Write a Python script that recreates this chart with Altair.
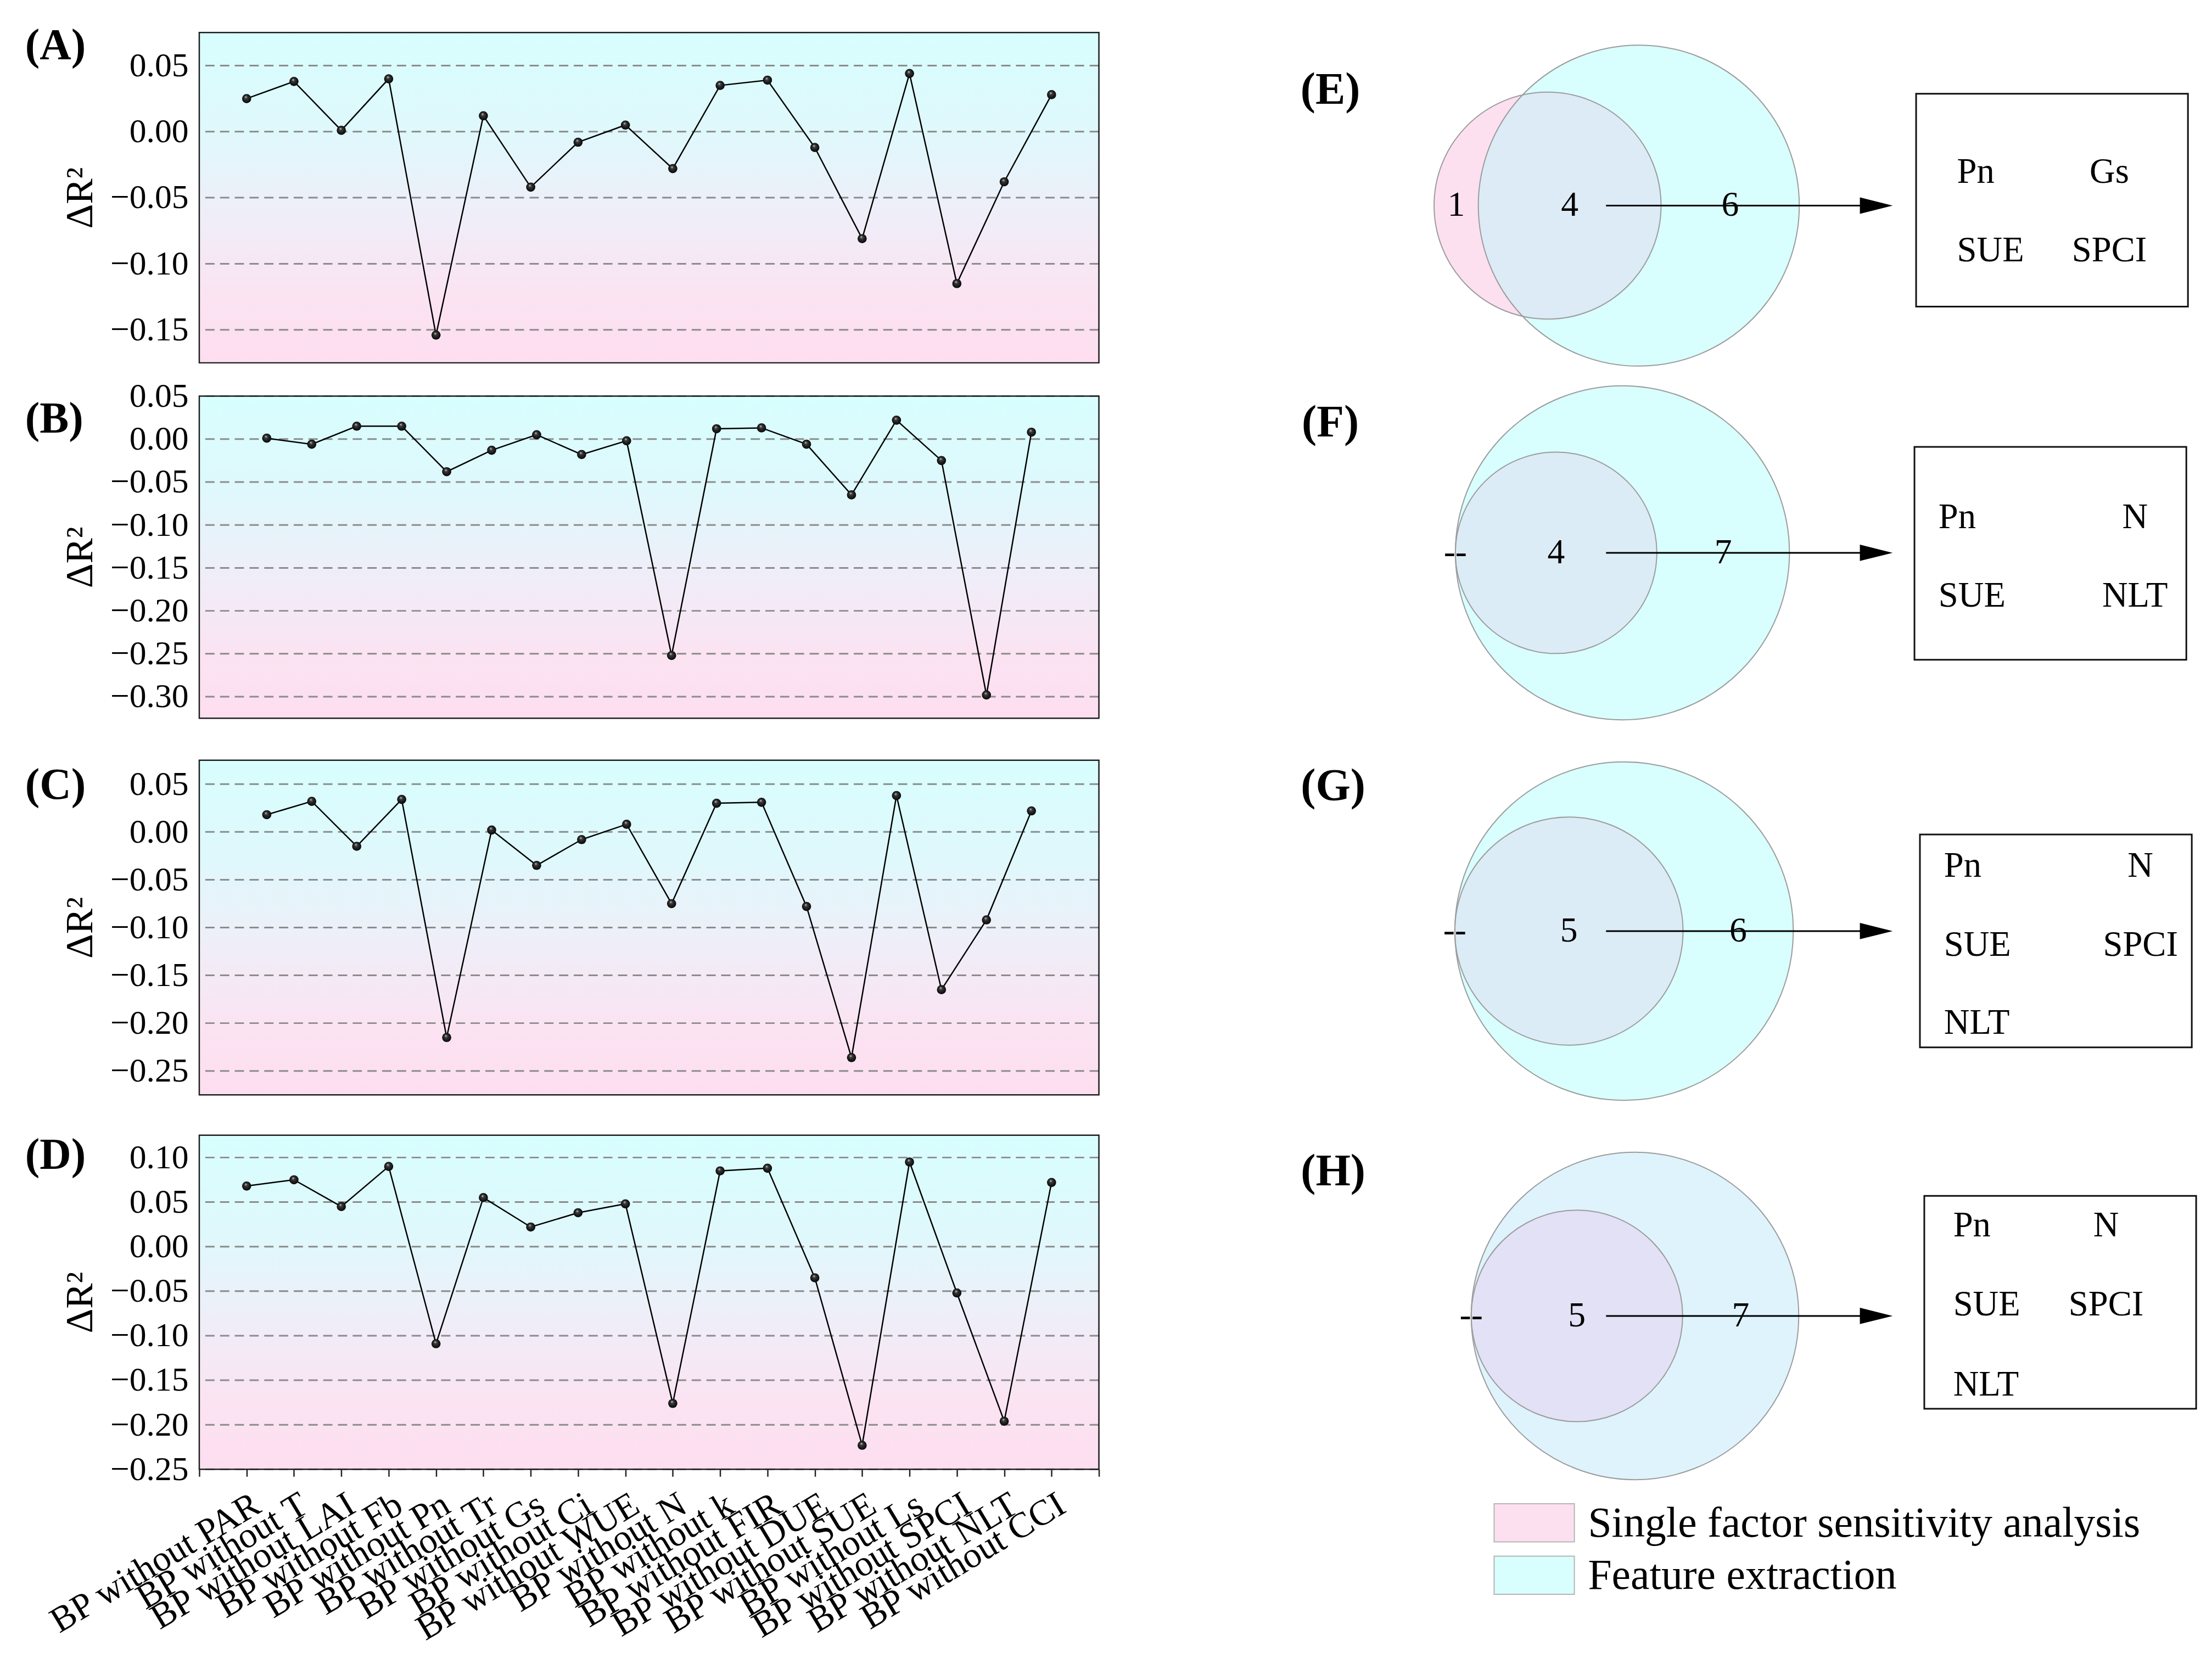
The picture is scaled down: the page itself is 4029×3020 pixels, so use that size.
import json
import math
import altair as alt
import pandas as pd

FONT = "Liberation Serif"

# ---------------- data ----------------
categories = ["PAR", "T", "LAI", "Fb", "Pn", "Tr", "Gs", "Ci", "WUE", "N",
              "k", "FIR", "DUE", "SUE", "Ls", "SPCI", "NLT", "CCI"]
x_labels = ["BP without " + c for c in categories]

dr2_A = [0.025, 0.038, 0.001, 0.040, -0.154, 0.012, -0.042, -0.008, 0.005, -0.028,
         0.035, 0.039, -0.012, -0.081, 0.044, -0.115, -0.038, 0.028]
dr2_B = [0.001, -0.006, 0.015, 0.015, -0.038, -0.013, 0.005, -0.018, -0.002, -0.252,
         0.012, 0.013, -0.006, -0.065, 0.022, -0.025, -0.298, 0.008]
dr2_C = [0.018, 0.032, -0.015, 0.034, -0.215, 0.002, -0.035, -0.008, 0.008, -0.075,
         0.030, 0.031, -0.078, -0.236, 0.038, -0.165, -0.092, 0.022]
dr2_D = [0.068, 0.075, 0.045, 0.090, -0.109, 0.055, 0.022, 0.038, 0.048, -0.176,
         0.085, 0.088, -0.035, -0.223, 0.095, -0.052, -0.196, 0.072]

ticks_A = [-0.15, -0.10, -0.05, 0.00, 0.05]
ticks_B = [-0.30, -0.25, -0.20, -0.15, -0.10, -0.05, 0.00, 0.05]
ticks_C = [-0.25, -0.20, -0.15, -0.10, -0.05, 0.00, 0.05]
ticks_D = [-0.25, -0.20, -0.15, -0.10, -0.05, 0.00, 0.05, 0.10]

venn_names = ["(E)", "(F)", "(G)", "(H)"]
only_single = [1, 0, 0, 0]
shared = [4, 4, 5, 5]
only_feature = [6, 7, 6, 7]
selected = [["Pn", "Gs", "SUE", "SPCI"],
            ["Pn", "N", "SUE", "NLT"],
            ["Pn", "N", "SUE", "SPCI", "NLT"],
            ["Pn", "N", "SUE", "SPCI", "NLT"]]
legend_labels = ["Single factor sensitivity analysis", "Feature extraction"]

# ---------------- styles ----------------
PANEL_W = 1648
BG_GRAD = {"gradient": "linear", "x1": 0, "y1": 0, "x2": 0, "y2": 1,
           "stops": [{"offset": 0, "color": "#d8fefe"},
                     {"offset": 0.3, "color": "#dff8fc"},
                     {"offset": 0.55, "color": "#efeef8"},
                     {"offset": 0.8, "color": "#fbe3f2"},
                     {"offset": 1, "color": "#fddef0"}]}
BALL = {"gradient": "radial", "x1": 0.4, "y1": 0.3, "r1": 0,
        "x2": 0.5, "y2": 0.5, "r2": 0.55,
        "stops": [{"offset": 0, "color": "#d8d8d8"},
                  {"offset": 0.28, "color": "#3a3a3a"},
                  {"offset": 1, "color": "#000000"}]}
label_expr = json.dumps([""] + x_labels + [""]) + "[datum.value]"


def line_panel(letter, values, ydom, yticks, xdom, height, letter_y, show_x):
    df = pd.DataFrame({"idx": list(range(1, 19)), "factor": x_labels, "dr2": values})
    xs = alt.Scale(domain=xdom, nice=False, zero=False)
    ys = alt.Scale(domain=ydom, nice=False, zero=False)
    yaxis = alt.Axis(values=yticks, format=".2f", labelFont=FONT, labelFontSize=62,
                     labelColor="#000", labelPadding=20, ticks=False, domain=False,
                     grid=False, titleFont=FONT, titleFontSize=70,
                     titleFontWeight="normal", titleColor="#000", titlePadding=18,
                     labelOverlap=False, labelFlush=False)
    if show_x:
        xaxis = alt.Axis(values=list(range(0, 20)), labelExpr=label_expr,
                         labelAngle=-31, labelAlign="right", labelBaseline="middle",
                         labelFont=FONT, labelFontSize=66, labelColor="#000",
                         labelPadding=46, labelOffset=19, labelLimit=2000,
                         tickSize=13, tickWidth=2.5,
                         tickColor="#222", domain=False, grid=False,
                         labelOverlap=False, labelFlush=False, labelBound=False)
    else:
        xaxis = None

    bg = alt.Chart(alt.Data(values=[{}])).mark_rect(fill=BG_GRAD).encode(
        x=alt.value(0), x2=alt.value(PANEL_W), y=alt.value(0), y2=alt.value(height))
    grid = alt.Chart(pd.DataFrame({"t": yticks})).mark_rule(
        color="#8c8c8c", strokeWidth=3, strokeDash=[17, 10]).encode(
        y=alt.Y("t:Q", scale=ys, axis=yaxis, title="ΔR²"))
    line = alt.Chart(df).mark_line(color="#000", strokeWidth=2.5).encode(
        x=alt.X("idx:Q", scale=xs, axis=xaxis, title=None),
        y=alt.Y("dr2:Q", scale=ys, axis=yaxis, title="ΔR²"))
    pts = alt.Chart(df).mark_circle(size=280, fill=BALL, opacity=1).encode(
        x=alt.X("idx:Q", scale=xs, axis=xaxis, title=None),
        y=alt.Y("dr2:Q", scale=ys, axis=yaxis, title="ΔR²"))
    border = alt.Chart(alt.Data(values=[{}])).mark_rect(
        fillOpacity=0, stroke="#1e1e1e", strokeWidth=2.5).encode(
        x=alt.value(0), x2=alt.value(PANEL_W), y=alt.value(0), y2=alt.value(height))
    lab = alt.Chart(alt.Data(values=[{}])).mark_text(
        text=letter, font=FONT, fontSize=80, fontWeight="bold", align="left",
        baseline="middle", color="#000").encode(
        x=alt.value(-319), y=alt.value(letter_y))
    return alt.layer(bg, grid, line, pts, border, lab).properties(
        width=PANEL_W, height=height)


pA = line_panel("(A)", dr2_A, [-0.175, 0.075], ticks_A, [0, 19], 605, 25, False)
pB = line_panel("(B)", dr2_B, [-0.325, 0.05], ticks_B, [-0.5, 19.5], 590, 43, False)
pC = line_panel("(C)", dr2_C, [-0.275, 0.075], ticks_C, [-0.5, 19.5], 613, 47, False)
pD = line_panel("(D)", dr2_D, [-0.25, 0.125], ticks_D, [0, 19], 612, 38, True)
left = alt.vconcat(alt.vconcat(pA, pB, spacing=61, bounds="flush"),
                   alt.vconcat(pC, pD, spacing=74, bounds="flush"),
                   spacing=73)

# ---------------- right side: Venn diagrams (page-pixel layout) ----------------
RX0, RW = 2032, 1990
RY0, RH = 53, 2947
xr = alt.Scale(domain=[RX0, RX0 + RW], nice=False, zero=False)
yr = alt.Scale(domain=[RY0, RY0 + RH], nice=False, zero=False, reverse=True)

row_y = [370, 1006, 1699, 2404]
big_cx = [2985, 2955, 2958, 2978]
big_r = [294, 306, 310, 300]
small_poke = [81, 0, 0, 0]
name_xy = [(2420, 158), (2420, 768), (2425, 1434), (2425, 2140)]
box_xy = [(3493, 165), (3490, 812), (3500, 1522), (3508, 2184)]
BOX_W, BOX_H = 498, 390
col_x = [(3568, 3847), (3534, 3894), (3544, 3904), (3561, 3841)]
row_off = [[143, 287], [129, 273], [57, 202, 345], [54, 199, 346]]
big_fill = ["#d9fefe", "#d9fefe", "#d9fefe", "#dff3fc"]
small_fill = ["#dcebf6", "#dcecf6", "#dcecf6", "#e2e1f5"]
PINK = "#fde0f0"
CYAN = "#d9fefe"
ARROW_X0, ARROW_TIP = 2925, 3450

circles, pinks, smalls, lens, nums, arrows, heads, boxes, items, names = ([] for _ in range(10))
for i in range(4):
    cy = row_y[i]
    rb = big_r[i]
    cxb = big_cx[i]
    single_total = only_single[i] + shared[i]
    feature_total = shared[i] + only_feature[i]
    rs = rb * math.sqrt(single_total / feature_total)
    cxs = cxb - rb - small_poke[i] + rs
    circles.append({"x": cxb, "y": cy, "s": (2 * rb) ** 2})
    circles.append({"x": cxs, "y": cy, "s": (2 * rs) ** 2})
    if only_single[i] > 0:
        pinks.append({"x": cxs, "y": cy, "s": (2 * rs) ** 2})
        x0, x1 = cxb - rb, cxs + rs
        n = 240
        for k in range(n + 1):
            xx = x0 + (x1 - x0) * k / n
            hb = math.sqrt(max(rb * rb - (xx - cxb) ** 2, 0))
            hs = math.sqrt(max(rs * rs - (xx - cxs) ** 2, 0))
            h = min(hb, hs)
            lens.append({"x": xx, "y": cy - h, "y2": cy + h, "p": i})
        single_x = (cxs - rs + cxb - rb) / 2
        shared_x = (cxb - rb + cxs + rs) / 2
        single_txt = str(only_single[i])
    else:
        smalls.append({"x": cxs, "y": cy, "s": (2 * rs) ** 2, "f": small_fill[i]})
        single_x = cxb - rb
        shared_x = cxs
        single_txt = "--"
    feat_x = (cxs + rs + cxb + rb) / 2
    nums += [{"x": single_x, "y": cy, "t": single_txt},
             {"x": shared_x, "y": cy, "t": str(shared[i])},
             {"x": feat_x, "y": cy, "t": str(only_feature[i])}]
    arrows.append({"x": ARROW_X0, "x2": ARROW_TIP - 40, "y": cy})
    heads.append({"x": ARROW_TIP - 30, "y": cy})
    bx, by = box_xy[i]
    boxes.append({"x": bx, "x2": bx + BOX_W, "y": by, "y2": by + BOX_H})
    for j, fac in enumerate(selected[i]):
        r, c = divmod(j, 2)
        items.append({"x": col_x[i][c], "y": by + row_off[i][r], "t": fac,
                      "a": "left" if c == 0 else "center"})
    names.append({"x": name_xy[i][0], "y": name_xy[i][1], "t": venn_names[i]})

big_df = pd.DataFrame([{"x": big_cx[i], "y": row_y[i], "s": (2 * big_r[i]) ** 2,
                        "f": big_fill[i]} for i in range(4)])


def X(f="x"):
    return alt.X(f + ":Q", scale=xr, axis=None)


def Y(f="y"):
    return alt.Y(f + ":Q", scale=yr, axis=None)


l_pink = alt.Chart(pd.DataFrame(pinks)).mark_point(
    shape="circle", filled=True, fill=PINK, opacity=1, strokeWidth=0).encode(
    x=X(), y=Y(), size=alt.Size("s:Q", scale=None))
l_big = alt.Chart(big_df).mark_point(
    shape="circle", filled=True, opacity=1, strokeWidth=0).encode(
    x=X(), y=Y(), size=alt.Size("s:Q", scale=None), fill=alt.Fill("f:N", scale=None))
l_lens = alt.Chart(pd.DataFrame(lens)).mark_area(
    color=small_fill[0], opacity=1, orient="vertical").encode(
    x=X(), y=Y(), y2="y2:Q", detail="p:N")
l_small = alt.Chart(pd.DataFrame(smalls)).mark_point(
    shape="circle", filled=True, opacity=1, strokeWidth=0).encode(
    x=X(), y=Y(), size=alt.Size("s:Q", scale=None), fill=alt.Fill("f:N", scale=None))
l_outline = alt.Chart(pd.DataFrame(circles)).mark_point(
    shape="circle", filled=False, color="#9c9c9c", strokeWidth=2, opacity=1).encode(
    x=X(), y=Y(), size=alt.Size("s:Q", scale=None))
l_arrow = alt.Chart(pd.DataFrame(arrows)).mark_rule(color="#000", strokeWidth=3).encode(
    x=X(), x2="x2:Q", y=Y())
l_head = alt.Chart(pd.DataFrame(heads)).mark_point(
    shape="M -1 -0.5 L 1 0 L -1 0.5 Z", filled=True, color="#000", opacity=1, size=3600).encode(
    x=X(), y=Y())
l_nums = alt.Chart(pd.DataFrame(nums)).mark_text(
    font=FONT, fontSize=64, color="#000", align="center", baseline="middle").encode(
    x=X(), y=Y(), text="t:N")
l_box = alt.Chart(pd.DataFrame(boxes)).mark_rect(
    fillOpacity=0, stroke="#111", strokeWidth=3).encode(
    x=X(), x2="x2:Q", y=Y(), y2="y2:Q")
items_df = pd.DataFrame(items)
l_items_l = alt.Chart(items_df[items_df.a == "left"]).mark_text(
    font=FONT, fontSize=65, color="#000", align="left", baseline="middle").encode(
    x=X(), y=Y(), text="t:N")
l_items_c = alt.Chart(items_df[items_df.a == "center"]).mark_text(
    font=FONT, fontSize=65, color="#000", align="center", baseline="middle").encode(
    x=X(), y=Y(), text="t:N")
l_names = alt.Chart(pd.DataFrame(names)).mark_text(
    font=FONT, fontSize=82, fontWeight="bold", color="#000", align="center",
    baseline="middle").encode(x=X(), y=Y(), text="t:N")

leg_df = pd.DataFrame({"t": legend_labels, "f": [PINK, CYAN],
                       "x": [2720, 2720], "x2": [2867, 2867],
                       "y": [2748, 2844], "y2": [2818, 2914],
                       "tx": [2892, 2892], "ty": [2785, 2881]})
l_leg_sq = alt.Chart(leg_df).mark_rect(stroke="#b5b5b5", strokeWidth=2, opacity=1).encode(
    x=X(), x2="x2:Q", y=Y(), y2="y2:Q", fill=alt.Fill("f:N", scale=None))
l_leg_tx = alt.Chart(leg_df).mark_text(
    font=FONT, fontSize=78, color="#000", align="left", baseline="middle").encode(
    x=X("tx"), y=Y("ty"), text="t:N")

right = alt.layer(l_pink, l_big, l_lens, l_small, l_outline, l_arrow, l_head, l_nums,
                  l_box, l_items_l, l_items_c, l_names, l_leg_sq, l_leg_tx).properties(
    width=RW, height=RH)

chart = alt.hconcat(left, right, spacing=0).properties(
    padding={"left": 38, "top": 28, "right": 5, "bottom": 5}
).configure(background="white").configure_view(stroke="transparent", strokeWidth=0)

chart.save("out.html", embed_options={"renderer": "svg", "actions": False})
